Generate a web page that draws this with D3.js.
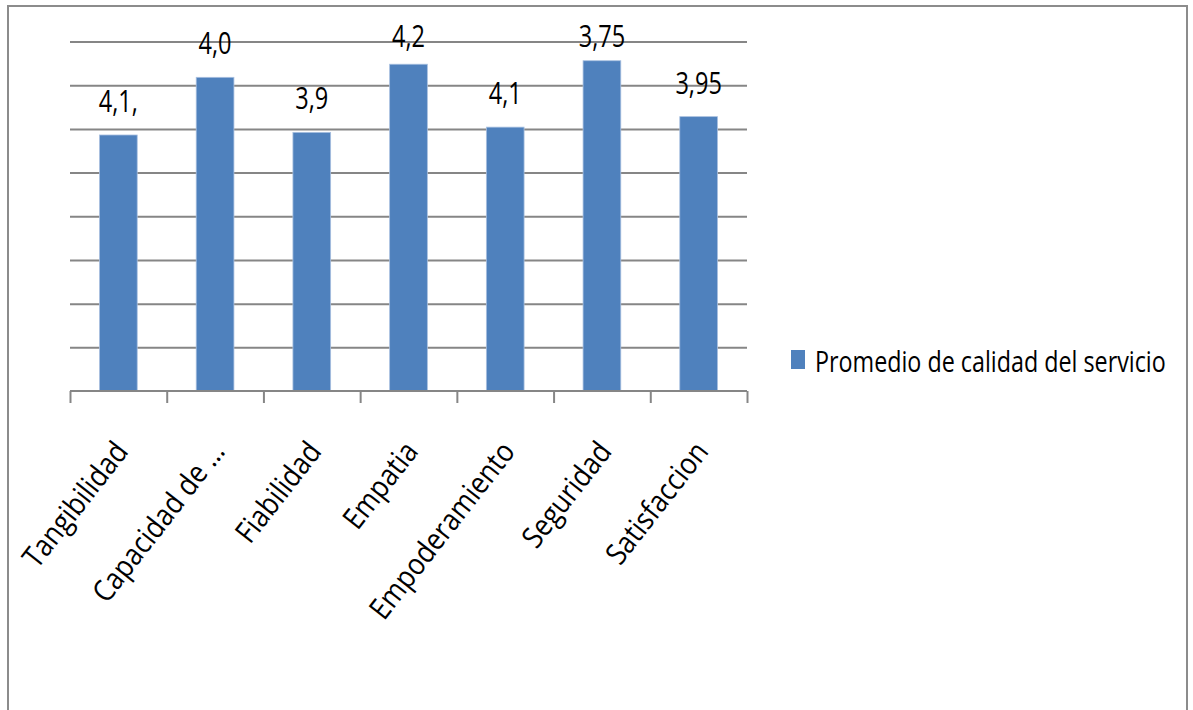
<!DOCTYPE html>
<html>
<head>
<meta charset="utf-8">
<script src="https://cdn.jsdelivr.net/npm/d3@7"></script>
<style>
  html, body { margin: 0; padding: 0; background: #ffffff; }
  svg text { font-family: "Open Sans", "DejaVu Sans", sans-serif; fill: #000; }
</style>
</head>
<body>
<svg id="chart" width="1193" height="710"></svg>
<script>
// ---- data ----
const categories = ["Tangibilidad", "Capacidad de \u2026", "Fiabilidad", "Empatia", "Empoderamiento", "Seguridad", "Satisfaccion"];
const values = [2.93, 3.59, 2.96, 3.74, 3.02, 3.78, 3.14];
const dataLabels = ["4,1,", "4,0", "3,9", "4,2", "4,1", "3,75", "3,95"];
const seriesName = "Promedio de calidad del servicio";
const gridTicks = [0, 0.5, 1, 1.5, 2, 2.5, 3, 3.5, 4];

// ---- layout ----
const svg = d3.select("#chart");
const plot = { left: 70, right: 747, top: 41.5, bottom: 391 };
const barColor = "#4F81BD";
const gridColor = "#868686";

// outer frame
svg.append("rect")
  .attr("x", 8).attr("y", 6).attr("width", 1179).attr("height", 720)
  .attr("fill", "none").attr("stroke", "#8c8c8c").attr("stroke-width", 2);

const x = d3.scaleBand().domain(categories).range([plot.left, plot.right]).padding(0);
const xIdx = d3.scaleLinear().domain([0, categories.length]).range([plot.left, plot.right]);
const y = d3.scaleLinear().domain([0, 4]).range([plot.bottom, plot.top]);

// gridlines
const grid = svg.append("g")
  .attr("transform", `translate(${plot.left},0)`)
  .call(d3.axisLeft(y).tickValues(gridTicks.filter(d => d > 0)).tickSize(-(plot.right - plot.left)).tickFormat(""));
grid.select(".domain").remove();
grid.selectAll(".tick line").attr("stroke", gridColor).attr("stroke-width", 2);

// bars
const barW = x.bandwidth() * 0.39;
svg.append("g").selectAll("rect")
  .data(categories)
  .join("rect")
  .attr("x", (d) => x(d) + x.bandwidth() / 2 - barW / 2)
  .attr("y", (d, i) => y(values[i]))
  .attr("width", barW)
  .attr("height", (d, i) => y(0) - y(values[i]))
  .attr("fill", barColor)
  .attr("stroke", "#a9c0e0").attr("stroke-width", 0.8);

// category axis
const xa = svg.append("g")
  .attr("transform", `translate(0,${plot.bottom})`)
  .call(d3.axisBottom(xIdx).ticks(categories.length).tickSize(12).tickFormat(""));
xa.select(".domain").attr("stroke", gridColor).attr("stroke-width", 2).attr("d", `M${plot.left},0H${plot.right}`);
xa.selectAll(".tick line").attr("stroke", gridColor).attr("stroke-width", 2);

// category labels
svg.append("g").selectAll("text")
  .data(categories)
  .join("text")
  .attr("text-anchor", "end")
  .attr("font-size", 30)
  .attr("transform", (d) => `translate(${x(d) + x.bandwidth() / 2 + 11},452) rotate(-52) scale(0.88,1)`)
  .text((d) => d);

// data labels
svg.append("g").selectAll("text")
  .data(categories)
  .join("text")
  .attr("text-anchor", "middle")
  .attr("font-size", 31)
  .attr("transform", (d, i) => {
    const base = Math.max(y(values[i]) - 23, plot.top + 5.5);
    return `translate(${x(d) + x.bandwidth() / 2},${base}) scale(0.76,1)`;
  })
  .text((d, i) => dataLabels[i]);

// legend
const lg = svg.append("g");
lg.append("rect").attr("x", 791).attr("y", 350).attr("width", 14).attr("height", 19).attr("fill", barColor);
lg.append("text")
  .attr("font-size", 29.5)
  .attr("transform", `translate(815,372) scale(0.79,1)`)
  .text(seriesName);
</script>
</body>
</html>
